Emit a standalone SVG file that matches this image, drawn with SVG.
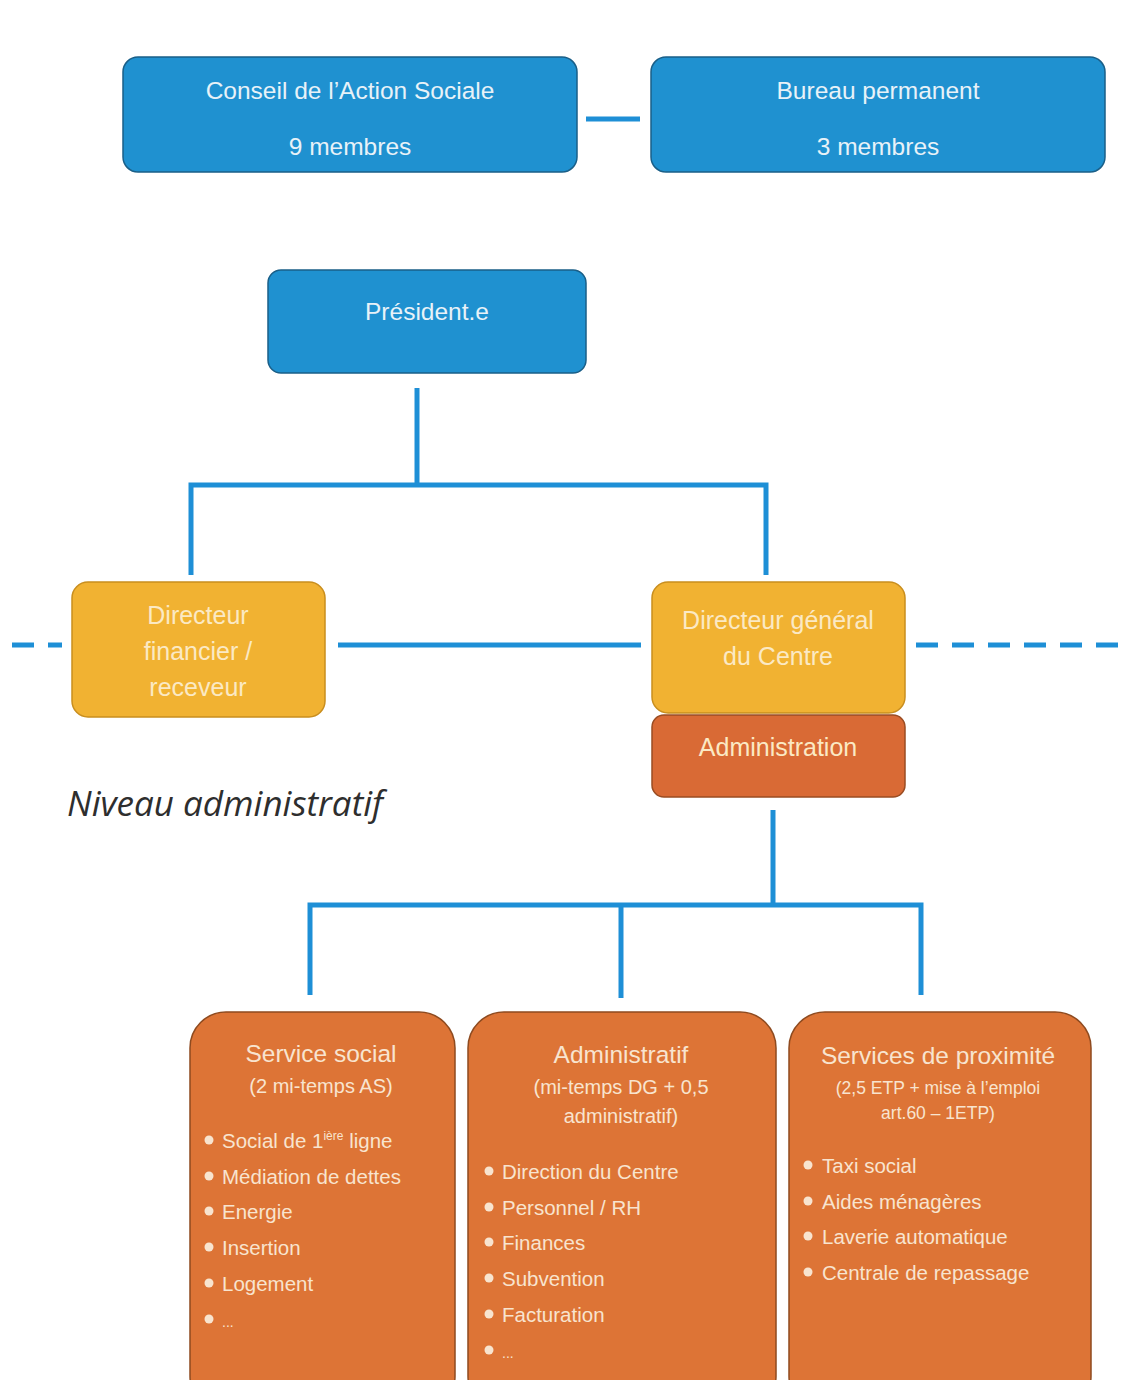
<svg xmlns="http://www.w3.org/2000/svg" width="1130" height="1380" viewBox="0 0 1130 1380">
<style>
text{font-family:"Liberation Sans",Arial,sans-serif;}
.blue{fill:#1f91d0;stroke:#1a5f88;stroke-width:1.5}
.yel{fill:#f1b232;stroke:#c98e1e;stroke-width:1.5}
.org{fill:#dd7436;stroke:#8e4a1f;stroke-width:1.5}
.adm{fill:#d96a35;stroke:#9a4c22;stroke-width:1.5}
.tb{fill:#e8f2f8;font-size:24.5px;text-anchor:middle}
.ty{fill:#fbe9c4;font-size:25px;text-anchor:middle}
.to{fill:#f8e4cf;text-anchor:middle}
.h{font-size:24.5px}
.s{font-size:20px}
.li{fill:#f8e4cf;font-size:20.5px}
.c{fill:none;stroke:#1e8fd6;stroke-width:5}
.d{fill:none;stroke:#1e8fd6;stroke-width:5;stroke-dasharray:22 14}
</style>
<rect width="1130" height="1380" fill="#ffffff"/>
<g id="connectors">
<line class="c" x1="586" y1="119" x2="640" y2="119" stroke-width="7"/>
<line class="c" x1="417" y1="388" x2="417" y2="485"/>
<polyline class="c" points="191,575 191,485 766,485 766,575"/>
<line class="c" x1="338" y1="645" x2="641" y2="645"/>
<line class="d" x1="12" y1="645" x2="62" y2="645" stroke-dasharray="10 6"/>
<line class="d" x1="916" y1="645" x2="1130" y2="645"/>
<line class="c" x1="773" y1="810" x2="773" y2="905"/>
<polyline class="c" points="310,995 310,905 921,905 921,995"/>
<line class="c" x1="621" y1="905" x2="621" y2="998"/>
</g>
<g id="conseil">
<rect class="blue" x="123" y="57" width="454" height="115" rx="15"/>
<text class="tb" x="350" y="99">Conseil de l’Action Sociale</text>
<text class="tb" x="350" y="155">9 membres</text>
</g>
<g id="bureau">
<rect class="blue" x="651" y="57" width="454" height="115" rx="15"/>
<text class="tb" x="878" y="99">Bureau permanent</text>
<text class="tb" x="878" y="155">3 membres</text>
</g>
<g id="president">
<rect class="blue" x="268" y="270" width="318" height="103" rx="13"/>
<text class="tb" x="427" y="320">Président.e</text>
</g>
<g id="dirfin">
<rect class="yel" x="72" y="582" width="253" height="135" rx="16"/>
<text class="ty" x="198" y="624">Directeur</text>
<text class="ty" x="198" y="660">financier /</text>
<text class="ty" x="198" y="696">receveur</text>
</g>
<g id="dirgen">
<rect class="yel" x="652" y="582" width="253" height="131" rx="16"/>
<text class="ty" x="778" y="629">Directeur général</text>
<text class="ty" x="778" y="665">du Centre</text>
</g>
<g id="administration">
<rect class="adm" x="652" y="715" width="253" height="82" rx="12"/>
<text class="ty" x="778" y="756">Administration</text>
</g>
<text x="67" y="816" font-size="35" font-style="italic" fill="#2e2e2e" style="font-family:'Open Sans','Liberation Sans',sans-serif">Niveau administratif</text>
<g id="service-social">
<rect class="org" x="190" y="1012" width="265" height="400" rx="36"/>
<text class="to h" x="321" y="1062">Service social</text>
<text class="to s" x="321" y="1093">(2 mi-temps AS)</text>
<g class="li">
<circle cx="209" cy="1140" r="4.5" fill="#f8e4cf"/><text x="222" y="1148">Social de 1<tspan font-size="12" dy="-8">ière</tspan><tspan dy="8"> ligne</tspan></text>
<circle cx="209" cy="1176" r="4.5" fill="#f8e4cf"/><text x="222" y="1184">Médiation de dettes</text>
<circle cx="209" cy="1211" r="4.5" fill="#f8e4cf"/><text x="222" y="1219">Energie</text>
<circle cx="209" cy="1247" r="4.5" fill="#f8e4cf"/><text x="222" y="1255">Insertion</text>
<circle cx="209" cy="1283" r="4.5" fill="#f8e4cf"/><text x="222" y="1291">Logement</text>
<circle cx="209" cy="1319" r="4.5" fill="#f8e4cf"/><text x="222" y="1327" font-size="14">...</text>
</g>
</g>
<g id="administratif">
<rect class="org" x="468" y="1012" width="308" height="400" rx="36"/>
<text class="to h" x="621" y="1063">Administratif</text>
<text class="to s" x="621" y="1094">(mi-temps DG + 0,5</text>
<text class="to s" x="621" y="1123">administratif)</text>
<g class="li">
<circle cx="489" cy="1171" r="4.5" fill="#f8e4cf"/><text x="502" y="1179">Direction du Centre</text>
<circle cx="489" cy="1207" r="4.5" fill="#f8e4cf"/><text x="502" y="1215">Personnel / RH</text>
<circle cx="489" cy="1242" r="4.5" fill="#f8e4cf"/><text x="502" y="1250">Finances</text>
<circle cx="489" cy="1278" r="4.5" fill="#f8e4cf"/><text x="502" y="1286">Subvention</text>
<circle cx="489" cy="1314" r="4.5" fill="#f8e4cf"/><text x="502" y="1322">Facturation</text>
<circle cx="489" cy="1350" r="4.5" fill="#f8e4cf"/><text x="502" y="1358" font-size="14">...</text>
</g>
</g>
<g id="proximite">
<rect class="org" x="789" y="1012" width="302" height="400" rx="36"/>
<text class="to h" x="938" y="1064">Services de proximité</text>
<text class="to" x="938" y="1094" font-size="17.5">(2,5 ETP + mise à l’emploi</text>
<text class="to" x="938" y="1119" font-size="17.5">art.60 – 1ETP)</text>
<g class="li">
<circle cx="808" cy="1165" r="4.5" fill="#f8e4cf"/><text x="822" y="1173">Taxi social</text>
<circle cx="808" cy="1201" r="4.5" fill="#f8e4cf"/><text x="822" y="1209">Aides ménagères</text>
<circle cx="808" cy="1236" r="4.5" fill="#f8e4cf"/><text x="822" y="1244">Laverie automatique</text>
<circle cx="808" cy="1272" r="4.5" fill="#f8e4cf"/><text x="822" y="1280">Centrale de repassage</text>
</g>
</g>
</svg>
